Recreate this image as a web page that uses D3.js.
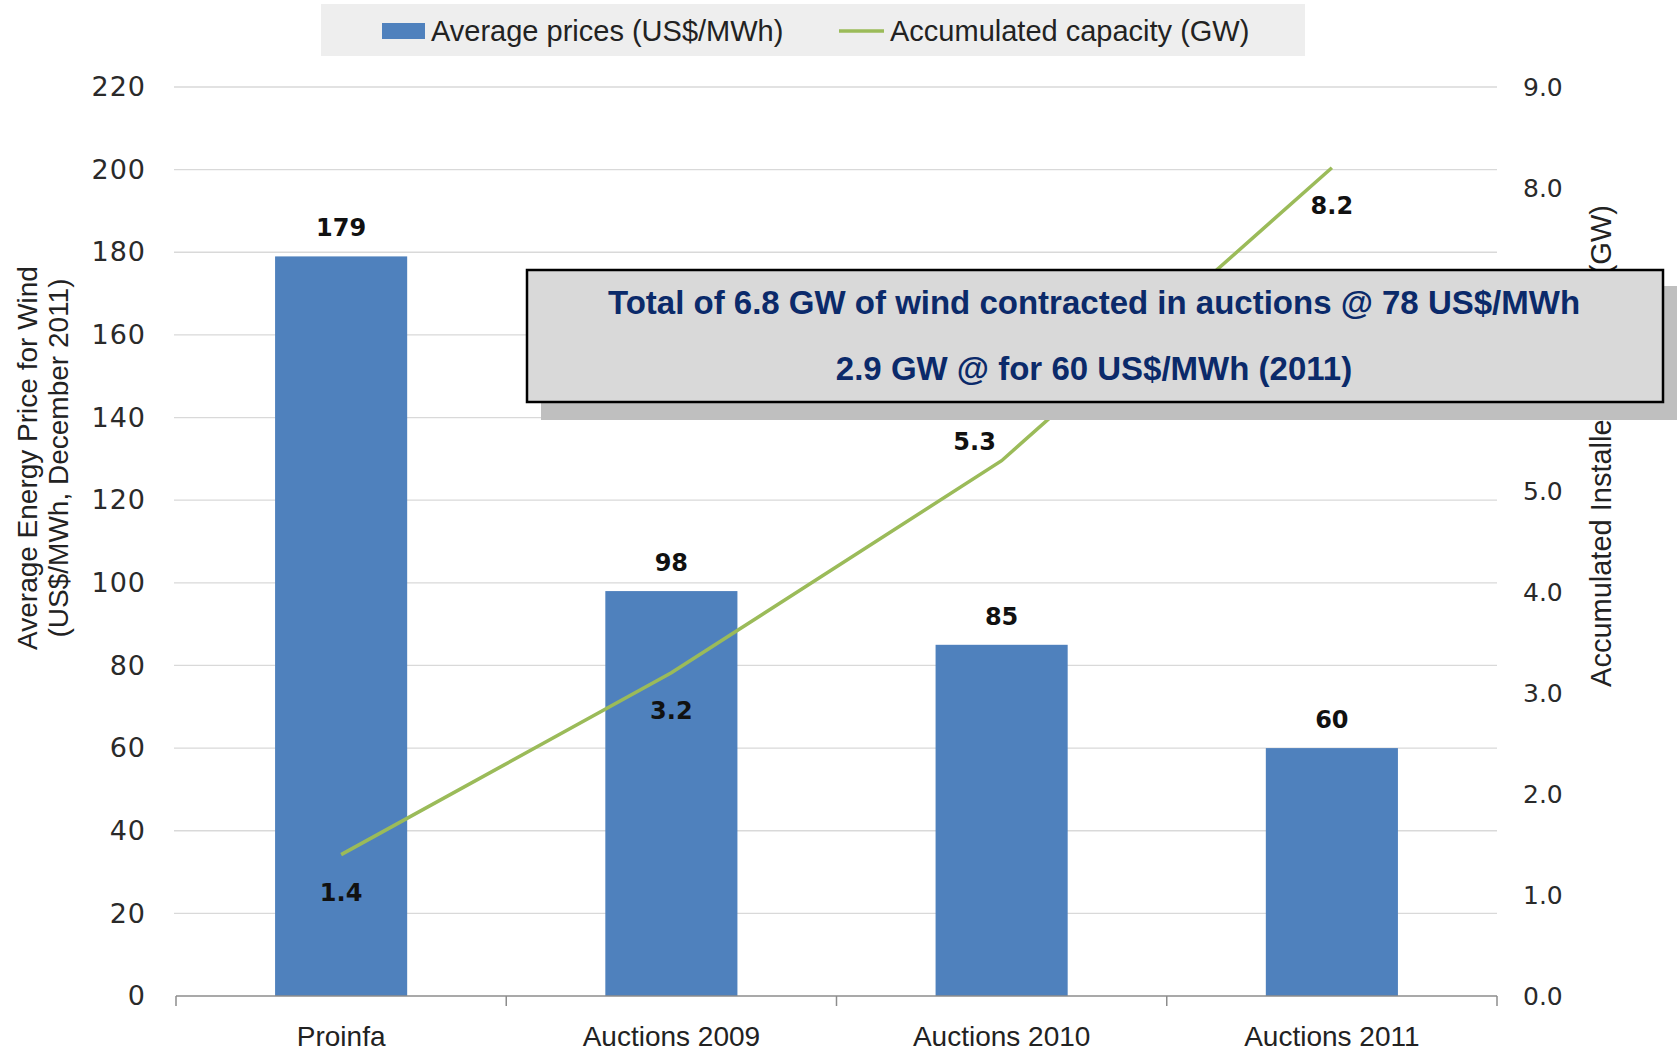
<!DOCTYPE html>
<html>
<head>
<meta charset="utf-8">
<script src="https://cdn.jsdelivr.net/npm/d3@7"></script>
<style>
  body { margin: 0; background: #fff; }
  .narrow { font-family: "Liberation Sans Narrow", "Liberation Sans", sans-serif; }
</style>
</head>
<body>
<div id="chart"></div>
<script>
// data
var categories = ["Proinfa", "Auctions 2009", "Auctions 2010", "Auctions 2011"];
var prices = [179, 98, 85, 60];          // US$/MWh, bars
var capacity = [1.4, 3.2, 5.3, 8.2];     // GW, line
var priceTicks = [0, 20, 40, 60, 80, 100, 120, 140, 160, 180, 200, 220];
var capTicks = [0, 1, 2, 3, 4, 5, 6, 7, 8, 9];
var capLabelPos = ["below", "below", "above", "below"];

var W = 1677, H = 1051;
var plotL = 176, plotR = 1497, plotT = 87, plotB = 996;

var svg = d3.select("#chart").append("svg")
    .attr("width", W)
    .attr("height", H);

var x = d3.scaleBand().domain(categories).range([plotL, plotR]).paddingInner(0.6).paddingOuter(0.3);
var yL = d3.scaleLinear().domain([0, 220]).range([plotB, plotT]);
var yR = d3.scaleLinear().domain([0, 9]).range([plotB, plotT]);

// gridlines
svg.append("g").selectAll("line")
    .data(priceTicks.slice(1))
    .enter().append("line")
    .attr("x1", plotL - 2).attr("x2", plotR)
    .attr("y1", d => yL(d)).attr("y2", d => yL(d))
    .style("stroke", "#d9d9d9").style("stroke-width", 1.3);

// left axis labels
svg.append("g")
    .attr("transform", "translate(" + (plotL - 10) + ",0)")
    .call(d3.axisLeft(yL).tickValues(priceTicks).tickSize(0).tickPadding(20))
    .call(g => g.select(".domain").remove())
    .selectAll("text")
    .style("font-family", "DejaVu Sans").style("font-size", "27px").style("fill", "#2a2a2a")
    .attr("letter-spacing", 1);

// right axis labels
svg.append("g")
    .attr("transform", "translate(" + plotR + ",0)")
    .call(d3.axisRight(yR).tickValues(capTicks).tickSize(0).tickPadding(26).tickFormat(d3.format(".1f")))
    .call(g => g.select(".domain").remove())
    .selectAll("text")
    .style("font-family", "DejaVu Sans").style("font-size", "25px").style("fill", "#2a2a2a");

// bars
svg.append("g").selectAll("rect")
    .data(prices)
    .enter().append("rect")
    .attr("x", (d, i) => x(categories[i]))
    .attr("width", x.bandwidth())
    .attr("y", d => yL(d))
    .attr("height", d => plotB - yL(d))
    .style("fill", "#4f81bd");

// x axis with category boundary ticks
var xa = svg.append("g").attr("transform", "translate(0," + plotB + ")");
xa.append("line").attr("x1", plotL).attr("x2", plotR)
    .style("stroke", "#8c8c8c").style("stroke-width", 1.5);
var step = (plotR - plotL) / categories.length;
xa.selectAll("line.tk")
    .data(d3.range(categories.length + 1))
    .enter().append("line").attr("class", "tk")
    .attr("x1", i => plotL + i * step).attr("x2", i => plotL + i * step)
    .attr("y1", 0).attr("y2", 10)
    .style("stroke", "#8c8c8c").style("stroke-width", 1.5);
xa.selectAll("text")
    .data(categories)
    .enter().append("text")
    .attr("class", "narrow")
    .attr("x", d => x(d) + x.bandwidth() / 2)
    .attr("y", 50)
    .attr("text-anchor", "middle")
    .style("font-size", "28px").style("fill", "#222")
    .text(d => d);

// bar value labels
svg.append("g").selectAll("text")
    .data(prices)
    .enter().append("text")
    .attr("x", (d, i) => x(categories[i]) + x.bandwidth() / 2)
    .attr("y", d => yL(d) - 20)
    .attr("text-anchor", "middle")
    .style("font-family", "DejaVu Sans").style("font-weight", "bold")
    .style("font-size", "24px").style("fill", "#111")
    .text(d => d);

// capacity line
var line = d3.line()
    .x((d, i) => x(categories[i]) + x.bandwidth() / 2)
    .y(d => yR(d));
svg.append("path")
    .datum(capacity)
    .attr("d", line)
    .style("fill", "none").style("stroke", "#9bbb59").style("stroke-width", 3.5);

svg.append("g").selectAll("text")
    .data(capacity)
    .enter().append("text")
    .attr("x", (d, i) => x(categories[i]) + x.bandwidth() / 2 + (capLabelPos[i] == "above" ? -27 : 0))
    .attr("y", (d, i) => yR(d) + (capLabelPos[i] == "above" ? -11 : 46))
    .attr("text-anchor", "middle")
    .style("font-family", "DejaVu Sans").style("font-weight", "bold")
    .style("font-size", "24px").style("fill", "#111")
    .text(d => d.toFixed(1));

// axis titles
var lt = svg.append("text")
    .attr("class", "narrow")
    .attr("transform", "translate(37,458) rotate(-90)")
    .attr("text-anchor", "middle")
    .style("font-size", "28px").style("fill", "#222");
lt.append("tspan").attr("x", 0).attr("dy", 0).text("Average Energy Price for Wind");
lt.append("tspan").attr("x", 0).attr("dy", 31).text("(US$/MWh, December 2011)");

svg.append("text")
    .attr("class", "narrow")
    .attr("transform", "translate(1611,446) rotate(-90)")
    .attr("text-anchor", "middle")
    .style("font-size", "29px").style("fill", "#222")
    .text("Accumulated Installed Capacity (GW)");

// annotation box with shadow
svg.append("rect")
    .attr("x", 541).attr("y", 286).attr("width", 1136).attr("height", 134)
    .style("fill", "#bfbfbf");
svg.append("rect")
    .attr("x", 527).attr("y", 270).attr("width", 1136).attr("height", 132)
    .style("fill", "#d9d9d9").style("stroke", "#000").style("stroke-width", 2.5);
var notes = ["Total of 6.8 GW of wind contracted in auctions @ 78 US$/MWh",
             "2.9 GW @ for 60 US$/MWh (2011)"];
svg.append("g").selectAll("text")
    .data(notes)
    .enter().append("text")
    .attr("class", "narrow")
    .attr("x", 1094)
    .attr("y", (d, i) => 314 + i * 66)
    .attr("text-anchor", "middle")
    .style("font-size", "33px").style("font-weight", "bold").style("fill", "#0b2a6a")
    .text(d => d);

// legend
var lg = svg.append("g");
lg.append("rect").attr("x", 321).attr("y", 4).attr("width", 984).attr("height", 52)
    .style("fill", "#eeeeee");
lg.append("rect").attr("x", 382).attr("y", 23).attr("width", 43).attr("height", 16)
    .style("fill", "#4f81bd");
lg.append("text").attr("class", "narrow").attr("x", 431).attr("y", 41)
    .style("font-size", "29px").style("fill", "#222").text("Average prices (US$/MWh)");
lg.append("line").attr("x1", 839).attr("x2", 884).attr("y1", 31).attr("y2", 31)
    .style("stroke", "#9bbb59").style("stroke-width", 3.5);
lg.append("text").attr("class", "narrow").attr("x", 890).attr("y", 41)
    .style("font-size", "29px").style("fill", "#222").text("Accumulated capacity (GW)");
</script>
</body>
</html>
